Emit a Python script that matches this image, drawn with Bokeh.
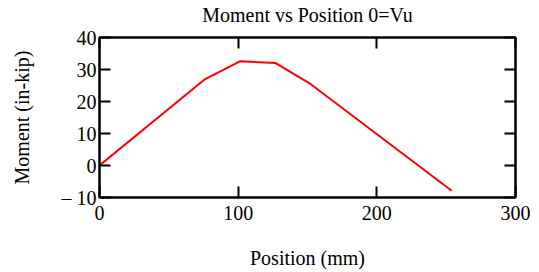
from bokeh.plotting import figure
from bokeh.models import Range1d, LinearAxis, FixedTicker
from bokeh.embed import file_html
from bokeh.resources import INLINE

# Data
position_mm = [0, 76.2, 101.6, 127.0, 152.4, 254.0]
moment_inkip = [0, 27.0, 32.6, 32.0, 25.4, -7.9]
x_ticks = [0, 100, 200, 300]
y_ticks = [-10, 0, 10, 20, 30, 40]
title_text = "Moment vs Position 0=Vu"

FONT = "Liberation Serif"

p = figure(frame_width=416, frame_height=160,
           output_backend="svg", toolbar_location=None,
           x_range=Range1d(0, 300), y_range=Range1d(-10, 40),
           min_border_left=99, min_border_right=15,
           min_border_top=36, min_border_bottom=66)

p.background_fill_color = "white"
p.border_fill_color = "white"
p.outline_line_color = "black"
p.outline_line_width = 2
p.grid.visible = False

p.line(position_mm, moment_inkip, line_color="red", line_width=2)

def style_axis(ax, ticks, show_labels):
    ax.ticker = FixedTicker(ticks=ticks)
    ax.axis_line_color = "black"
    ax.axis_line_width = 2
    ax.major_tick_line_color = "black"
    ax.major_tick_line_width = 2
    ax.major_tick_in = 11
    ax.major_tick_out = 0
    ax.minor_tick_line_color = None
    ax.major_label_text_font = FONT
    ax.major_label_text_color = "black"
    ax.axis_label_text_font = FONT
    ax.axis_label_text_font_style = "normal"
    ax.axis_label_text_font_size = "20px"
    ax.axis_label_text_color = "black"
    ax.major_label_text_font_size = "20px"
    if not show_labels:
        ax.major_label_overrides = {t: "" for t in ticks}
        ax.major_label_text_color = None
        ax.major_label_standoff = 0

xa = p.xaxis[0]
ya = p.yaxis[0]
style_axis(xa, x_ticks, True)
style_axis(ya, y_ticks, True)
xa.axis_label = "Position (mm)"
xa.major_label_standoff = 8
xa.axis_label_standoff = 24
ya.axis_label = "Moment (in-kip)"
ya.major_label_standoff = 3
ya.axis_label_standoff = 26
ya.major_label_overrides = {-10: "\u2013 10"}

top = LinearAxis()
right = LinearAxis()
style_axis(top, x_ticks, False)
style_axis(right, y_ticks, False)
# Chart title shown as the label of the top axis
top.axis_label = title_text
top.axis_label_standoff = 12
p.add_layout(top, "above")
p.add_layout(right, "right")

open("out.html", "w").write(file_html(p, INLINE))
